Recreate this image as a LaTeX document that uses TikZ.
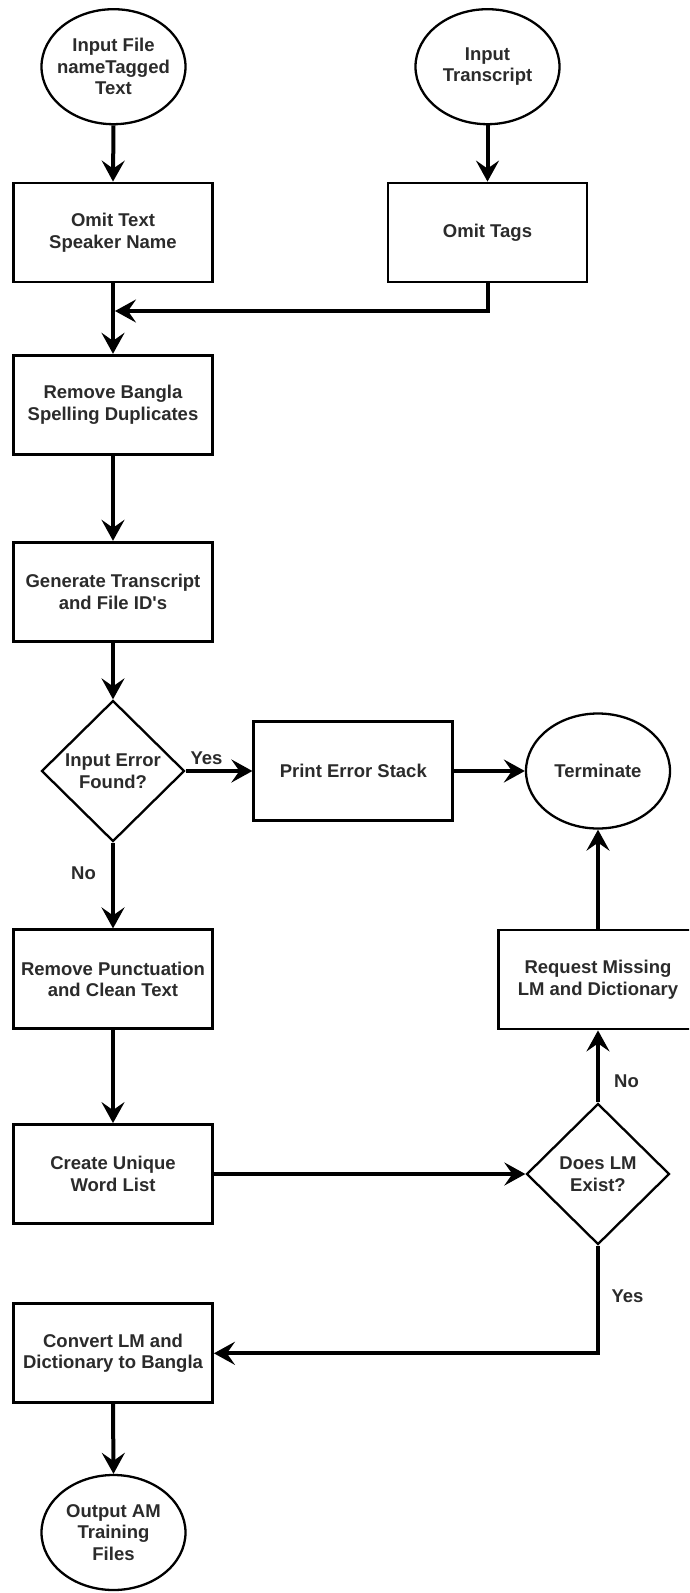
\documentclass[tikz,border=0pt]{standalone}
\usepackage{fontspec}
\setmainfont{Liberation Sans}
\usetikzlibrary{shapes.geometric,arrows.meta}
\definecolor{txtc}{HTML}{2B2B2B}
\begin{document}
\begin{tikzpicture}[x=1pt,y=-1pt,
  font=\fontsize{18.5}{21.5}\selectfont\bfseries,
  box/.style={draw=black, line width=2.8pt, minimum width=199pt, minimum height=99pt, inner sep=2pt, align=center, text=txtc},
  oval/.style={draw=black, ellipse, line width=2.3pt, minimum width=144pt, minimum height=115pt, inner sep=0pt},
  dec/.style={draw=black, diamond, aspect=1, line width=2.3pt, minimum width=143pt, minimum height=141pt, inner sep=0pt, align=center, text=txtc},
  txt/.style={align=center, text=txtc, inner sep=0pt},
  lbl/.style={text=txtc, inner sep=0pt},
  flow/.style={line width=4pt, -{Stealth[length=21pt,width=23pt,inset=8pt]}}]
\path[use as bounding box] (0,0) rectangle (689,1593);
\fill[white] (0,0) rectangle (689,1593);
\clip (0,0) rectangle (689,1593);

% shapes
\node[oval] (e1) at (113.5,66.7) {};
\node[txt] (e1t) at (e1) {Input File\\nameTagged\\Text};
\node[oval] (e2) at (487.5,66.7) {};
\node[txt] (e2t) at (e2) {Input\\Transcript};
\node[box] (b1) at (113,232.5) {Omit Text\\Speaker Name};
\node[box] (b2) at (487.5,232.5) {Omit Tags};
\node[box] (b3) at (113,404.7) {Remove Bangla\\Spelling Duplicates};
\node[box] (b4) at (113,591.7) {Generate Transcript\\and File ID\textquotesingle s};
\node[dec] (d1) at (113,771) {Input Error\\Found?};
\node[box] (b5) at (353.3,771) {Print Error Stack};
\node[oval] (e3) at (598,771) {};
\node[txt] (e3t) at (e3) {Terminate};
\node[box] (b6) at (113,979.3) {Remove Punctuation\\and Clean Text};
\node[box] (b7) at (598,979.5) {Request Missing\\LM and Dictionary};
\node[box] (b8) at (113,1174) {Create Unique\\Word List};
\node[dec] (d2) at (598,1174) {Does LM\\Exist?};
\node[box] (b9) at (113,1353.3) {Convert LM and\\Dictionary to Bangla};
\node[oval] (e4) at (113.5,1532.5) {};
\node[txt] (e4t) at (e4) {Output AM\\Training\\Files};

\coordinate (mj) at (115,311);

% connectors
\draw[flow] (e1.south) -- (b1.north);
\draw[flow] (e2.south) -- (b2.north);
\draw[flow] (b1.south) -- (b3.north);
\draw[flow] (b2.south) |- (mj);
\draw[flow] (b3.south) -- (b4.north);
\draw[flow] (b4.south) -- (d1.north);
\draw[flow] (d1.east) -- (b5.west);
\draw[flow] (b5.east) -- (e3.west);
\draw[flow] (d1.south) -- (b6.north);
\draw[flow] (b6.south) -- (b8.north);
\draw[flow] (b8.east) -- (d2.west);
\draw[flow] (d2.north) -- (b7.south);
\draw[flow] (b7.north) -- (e3.south);
\draw[flow] (d2.south) |- (b9.east);
\draw[flow] (b9.south) -- (e4.north);

% labels
\node[lbl] (l1) at (206.5,758.5) {Yes};
\node[lbl] (l2) at (83.5,873) {No};
\node[lbl] (l3) at (626.5,1081.5) {No};
\node[lbl] (l4) at (627.5,1296) {Yes};
\end{tikzpicture}
\end{document}
